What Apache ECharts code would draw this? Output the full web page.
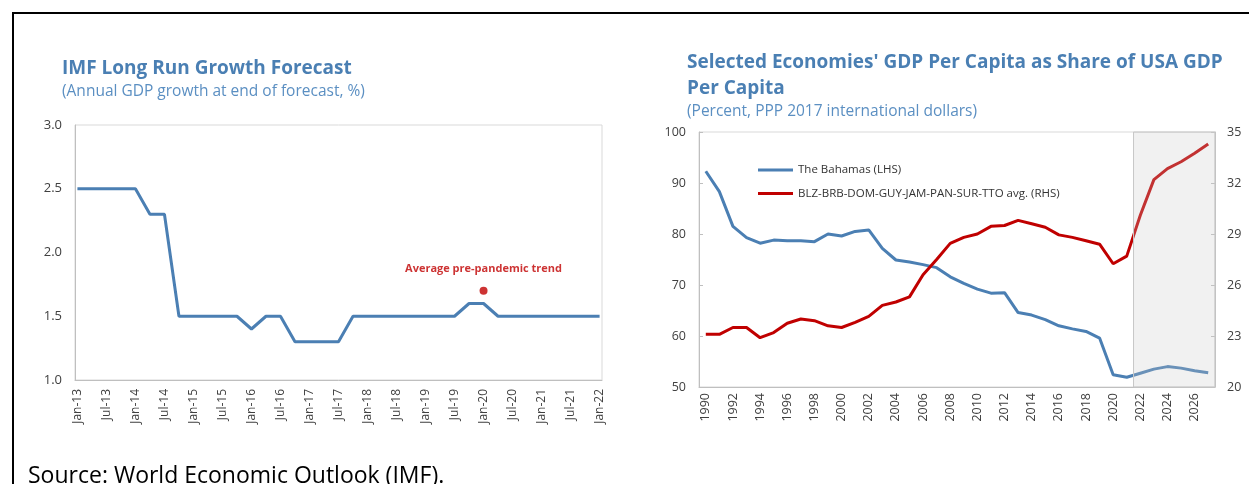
<!DOCTYPE html>
<html><head><meta charset="utf-8">
<script src="https://cdn.jsdelivr.net/npm/echarts@6/dist/echarts.min.js"></script>
<style>html,body{margin:0;padding:0;background:#fff}#c{width:1249px;height:484px}</style>
</head><body><div id="c"></div>
<script>
// ---------- Left chart data ----------
const monthNames = ['Jan','Feb','Mar','Apr','May','Jun','Jul','Aug','Sep','Oct','Nov','Dec'];
const monthCategories = [];
for (let y = 13; y <= 22; y++) {
  for (let m = 0; m < 12; m++) {
    if (y === 22 && m > 0) break;
    monthCategories.push(monthNames[m] + '-' + y);
  }
}
const growthDates = ['Jan-13','Apr-13','Jul-13','Oct-13','Jan-14','Apr-14','Jul-14','Oct-14',
  'Jan-15','Apr-15','Jul-15','Oct-15','Jan-16','Apr-16','Jul-16','Oct-16',
  'Jan-17','Apr-17','Jul-17','Oct-17','Jan-18','Apr-18','Jul-18','Oct-18',
  'Jan-19','Apr-19','Jul-19','Oct-19','Jan-20','Apr-20','Jul-20','Oct-20',
  'Jan-21','Apr-21','Jul-21','Oct-21','Jan-22'];
const growthValues = [2.5,2.5,2.5,2.5,2.5,2.3,2.3,1.5,
  1.5,1.5,1.5,1.5,1.4,1.5,1.5,1.3,
  1.3,1.3,1.3,1.5,1.5,1.5,1.5,1.5,
  1.5,1.5,1.5,1.6,1.6,1.5,1.5,1.5,
  1.5,1.5,1.5,1.5,1.5];
const trendDate = 'Jan-20';
const trendValue = 1.7;
const trendLabel = 'Average pre-pandemic trend';

// ---------- Right chart data ----------
const years = ['1990','1991','1992','1993','1994','1995','1996','1997','1998','1999',
  '2000','2001','2002','2003','2004','2005','2006','2007','2008','2009',
  '2010','2011','2012','2013','2014','2015','2016','2017','2018','2019',
  '2020','2021','2022','2023','2024','2025','2026','2027'];
const bahamas = [92.3,88.3,81.5,79.3,78.2,78.8,78.7,78.7,78.5,80.0,
  79.6,80.5,80.8,77.2,74.9,74.5,74.0,73.4,71.6,70.3,
  69.2,68.4,68.5,64.6,64.1,63.2,62.0,61.4,60.9,59.6,
  52.4,51.9,52.7,53.5,54.0,53.7,53.2,52.8];
const regionAvg = [23.1,23.1,23.5,23.5,22.9,23.2,23.75,24.0,23.9,23.6,
  23.5,23.8,24.15,24.8,25.0,25.3,26.6,27.5,28.45,28.8,
  29.0,29.45,29.5,29.8,29.6,29.4,28.95,28.8,28.6,28.4,
  27.25,27.7,30.1,32.2,32.85,33.25,33.75,34.3];
const forecastFirstYear = 2022;
const seriesNames = ['The Bahamas (LHS)', 'BLZ-BRB-DOM-GUY-JAM-PAN-SUR-TTO avg. (RHS)'];

const FONT = '"Open Sans", "Noto Sans", sans-serif';
const BLUE = '#4b7fb3';
const RED = '#c00000';
const TITLE_BLUE = '#4a7fb3';
const AX = '#bfbfbf';
const LBL = '#404040';

const chart = echarts.init(document.getElementById('c'));
const firstYear = Number(years[0]), lastYear = Number(years[years.length - 1]);

chart.setOption({
  animation: false,
  textStyle: { fontFamily: FONT },
  title: [
    { text: 'IMF Long Run Growth Forecast', left: 62, top: 59, padding: 0,
      textStyle: { fontFamily: FONT, fontSize: 19, fontWeight: 'bold', color: TITLE_BLUE } },
    { text: '(Annual GDP growth at end of forecast, %)', left: 62, top: 84, padding: 0,
      textStyle: { fontFamily: FONT, fontSize: 15.5, fontWeight: 'normal', color: '#5b8fc2' } },
    { text: "Selected Economies' GDP Per Capita as Share of USA GDP\nPer Capita", left: 687, top: 50, padding: 0,
      textStyle: { fontFamily: FONT, fontSize: 19, fontWeight: 'bold', color: TITLE_BLUE, lineHeight: 26 } },
    { text: '(Percent, PPP 2017 international dollars)', left: 687, top: 104, padding: 0,
      textStyle: { fontFamily: FONT, fontSize: 15.5, fontWeight: 'normal', color: '#5b8fc2' } }
  ],
  legend: {
    orient: 'vertical', left: 758, top: 164, itemGap: 11.5, padding: 0,
    itemWidth: 35, itemHeight: 3, icon: 'rect',
    textStyle: { fontFamily: FONT, fontSize: 11.5, color: '#333' },
    data: seriesNames
  },
  graphic: [
    { type: 'line', shape: { x1: 12, y1: 13, x2: 1249, y2: 13 }, style: { stroke: '#000', lineWidth: 2 } },
    { type: 'line', shape: { x1: 13, y1: 12, x2: 13, y2: 484 }, style: { stroke: '#000', lineWidth: 2 } },
    { type: 'text', left: 28, top: 465,
      style: { text: 'Source: World Economic Outlook (IMF).', font: '23px ' + FONT, fill: '#000' } }
  ],
  grid: [
    { left: 75, top: 125, width: 527, height: 255, show: true, borderColor: '#d9d9d9', borderWidth: 1 },
    { left: 699, top: 132, width: 516, height: 255, show: true, borderColor: '#d9d9d9', borderWidth: 1 }
  ],
  xAxis: [
    { type: 'category', gridIndex: 0, data: monthCategories, boundaryGap: true,
      axisLine: { lineStyle: { color: AX } },
      axisTick: { interval: 5, inside: true, length: 5, lineStyle: { color: AX } },
      axisLabel: { interval: 5, rotate: 90, margin: 9, fontSize: 12, color: LBL, fontFamily: FONT } },
    { type: 'category', gridIndex: 1, data: years, boundaryGap: true,
      axisLine: { lineStyle: { color: AX } },
      axisTick: { interval: 0, inside: true, length: 4, lineStyle: { color: AX } },
      axisLabel: { interval: 1, rotate: 90, margin: 6, fontSize: 12.5, color: LBL, fontFamily: FONT } },
    { type: 'value', gridIndex: 1, min: firstYear - 0.5, max: lastYear + 0.5, show: false }
  ],
  yAxis: [
    { type: 'value', gridIndex: 0, min: 1, max: 3, interval: 0.5,
      axisLine: { show: true, lineStyle: { color: AX } }, axisTick: { show: false },
      splitLine: { show: false },
      axisLabel: { margin: 13, fontSize: 13, color: LBL, fontFamily: FONT, formatter: v => v.toFixed(1) } },
    { type: 'value', gridIndex: 1, min: 50, max: 100, interval: 10,
      axisLine: { show: true, lineStyle: { color: AX } },
      axisTick: { show: true, inside: true, length: 4, lineStyle: { color: AX } },
      splitLine: { show: false },
      axisLabel: { margin: 13, fontSize: 12.5, color: LBL, fontFamily: FONT } },
    { type: 'value', gridIndex: 1, min: 20, max: 35, alignTicks: true, position: 'right',
      axisLine: { show: true, lineStyle: { color: AX } },
      axisTick: { show: true, inside: true, length: 4, lineStyle: { color: AX } },
      splitLine: { show: false },
      axisLabel: { margin: 12, fontSize: 12.5, color: LBL, fontFamily: FONT } }
  ],
  series: [
    { type: 'line', name: 'IMF growth', xAxisIndex: 0, yAxisIndex: 0,
      data: growthDates.map((d, i) => [d, growthValues[i]]),
      symbol: 'none', lineStyle: { color: BLUE, width: 3 }, itemStyle: { color: BLUE } },
    { type: 'scatter', name: 'trend', xAxisIndex: 0, yAxisIndex: 0,
      data: [[trendDate, trendValue]], symbolSize: 8, itemStyle: { color: RED },
      label: { show: true, position: 'top', distance: 12, formatter: trendLabel,
        fontFamily: FONT, fontSize: 11, fontWeight: 'bold', color: RED } },
    { type: 'line', name: seriesNames[0], xAxisIndex: 1, yAxisIndex: 1, data: bahamas,
      symbol: 'none', z: 2, lineStyle: { color: BLUE, width: 3 }, itemStyle: { color: BLUE } },
    { type: 'line', name: seriesNames[1], xAxisIndex: 1, yAxisIndex: 2, data: regionAvg,
      symbol: 'none', z: 2, lineStyle: { color: RED, width: 3 }, itemStyle: { color: RED } },
    { type: 'line', name: 'forecast', xAxisIndex: 2, yAxisIndex: 1, data: [],
      markArea: { silent: true, z: 3,
        itemStyle: { color: 'rgba(200,200,200,0.25)', borderColor: '#c8c8c8', borderWidth: 1 },
        data: [[{ xAxis: forecastFirstYear - 0.5 }, { xAxis: lastYear + 0.5 }]] } }
  ]
});
</script>
</body></html>
